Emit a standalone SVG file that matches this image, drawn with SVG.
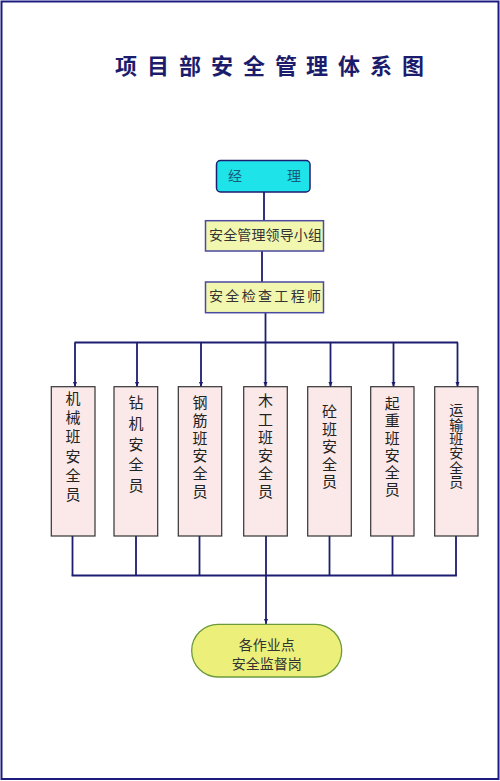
<svg xmlns="http://www.w3.org/2000/svg" width="500" height="781" viewBox="0 0 500 781">
<defs>
<style>
.t{font-family:"Noto Sans CJK SC","Noto Sans",sans-serif;}
.title{font-size:22px;font-weight:bold;fill:#1c1c6c;text-anchor:middle;}
.con{stroke:#1c1c70;stroke-width:1.8;fill:none;}
.box{fill:#fbe9e9;stroke:#333;stroke-width:1.2;}
.yb{fill:#f2f7b0;stroke:#4a4aa0;stroke-width:1.5;}
.vt{font-size:15px;fill:#222;writing-mode:vertical-rl;text-orientation:upright;}
</style>
<marker id="ar" viewBox="0 0 10 10" refX="10" refY="5" markerWidth="5" markerHeight="7" markerUnits="userSpaceOnUse" orient="auto">
<path d="M0,1 L10,5 L0,9 z" fill="#1c1c70"/>
</marker>
</defs>
<rect x="0" y="0" width="500" height="781" fill="#fff"/>
<rect x="1.5" y="1.5" width="497" height="777.5" fill="none" stroke="#1c1c80" stroke-width="2"/>
<g id="title" class="t title">
<text x="126" y="74">项</text><text x="158" y="74">目</text><text x="190" y="74">部</text><text x="222" y="74">安</text><text x="254" y="74">全</text><text x="286" y="74">管</text><text x="317" y="74">理</text><text x="349" y="74">体</text><text x="381" y="74">系</text><text x="413" y="74">图</text>
</g>
<g id="connectors" class="con">
<line x1="264" y1="192" x2="264" y2="221"/>
<line x1="262" y1="251" x2="262" y2="282"/>
<line x1="265.5" y1="313" x2="265.5" y2="387" marker-end="url(#ar)"/>
<line x1="74.5" y1="342.5" x2="458" y2="342.5"/>
<line x1="75" y1="342.5" x2="75" y2="387" marker-end="url(#ar)"/>
<line x1="137" y1="342.5" x2="137" y2="387" marker-end="url(#ar)"/>
<line x1="201" y1="342.5" x2="201" y2="387" marker-end="url(#ar)"/>
<line x1="330.5" y1="342.5" x2="330.5" y2="387" marker-end="url(#ar)"/>
<line x1="393.5" y1="342.5" x2="393.5" y2="387" marker-end="url(#ar)"/>
<line x1="457.5" y1="342.5" x2="457.5" y2="387" marker-end="url(#ar)"/>
<line x1="72.5" y1="536" x2="72.5" y2="575.5"/>
<line x1="136" y1="536" x2="136" y2="575.5"/>
<line x1="199.5" y1="536" x2="199.5" y2="575.5"/>
<line x1="266" y1="536" x2="266" y2="575.5"/>
<line x1="329.5" y1="536" x2="329.5" y2="575.5"/>
<line x1="392.5" y1="536" x2="392.5" y2="575.5"/>
<line x1="456" y1="536" x2="456" y2="575.5"/>
<line x1="71.6" y1="575.5" x2="456.9" y2="575.5"/>
<line x1="266" y1="575.5" x2="266" y2="624" marker-end="url(#ar)"/>
</g>
<g id="manager">
<rect x="216.5" y="160.5" width="93.5" height="31.5" rx="4" fill="#1ee3e8" stroke="#1c1c70" stroke-width="1.5"/>
<text class="t" x="235" y="181" font-size="14" fill="#1a5a7a" text-anchor="middle">经</text>
<text class="t" x="294" y="181" font-size="14" fill="#1a5a7a" text-anchor="middle">理</text>
</g>
<g id="leadgroup">
<rect class="yb" x="205.5" y="220.7" width="118" height="30.3"/>
<text class="t" x="209" y="240" font-size="14" fill="#333" textLength="113" lengthAdjust="spacing">安全管理领导小组</text>
</g>
<g id="inspector">
<rect class="yb" x="205.5" y="282" width="118" height="30.7"/>
<text class="t" x="209" y="301" font-size="14" fill="#333" textLength="112" lengthAdjust="spacing">安全检查工程师</text>
</g>
<g id="n1">
<rect class="box" x="51.3" y="386.7" width="43.7" height="149.3"/>
<text class="t vt" x="73" y="390.5" letter-spacing="4.3">机械班安全员</text>
</g>
<g id="n2">
<rect class="box" x="114" y="386.7" width="43.7" height="149.3"/>
<text class="t vt" x="136" y="395.2" letter-spacing="5.6">钻机安全员</text>
</g>
<g id="n3">
<rect class="box" x="178.3" y="386.7" width="43.4" height="149.3"/>
<text class="t vt" x="200" y="395.2" letter-spacing="2.7">钢筋班安全员</text>
</g>
<g id="n4">
<rect class="box" x="243.7" y="386.7" width="43.6" height="149.3"/>
<text class="t vt" x="265.5" y="393.2" letter-spacing="3.2">木工班安全员</text>
</g>
<g id="n5">
<rect class="box" x="307.7" y="386.7" width="43.6" height="149.3"/>
<text class="t vt" x="329.5" y="404.2" letter-spacing="2.5">砼班安全员</text>
</g>
<g id="n6">
<rect class="box" x="370.7" y="386.7" width="43.3" height="149.3"/>
<text class="t vt" x="392.3" y="395.8" letter-spacing="2.3">起重班安全员</text>
</g>
<g id="n7">
<rect class="box" x="434.7" y="386.7" width="43.3" height="149.3"/>
<text class="t vt" x="456.3" y="403" letter-spacing="0.3" style="font-size:14px">运输班安全员</text>
</g>
<g id="sites">
<rect x="191.7" y="624.3" width="150" height="52.7" rx="26.3" fill="#ecf07a" stroke="#6a9a3a" stroke-width="1.3"/>
<text class="t" x="266.7" y="649.5" font-size="14" fill="#333" text-anchor="middle">各作业点</text>
<text class="t" x="266.7" y="668.5" font-size="14" fill="#333" text-anchor="middle">安全监督岗</text>
</g>
</svg>
